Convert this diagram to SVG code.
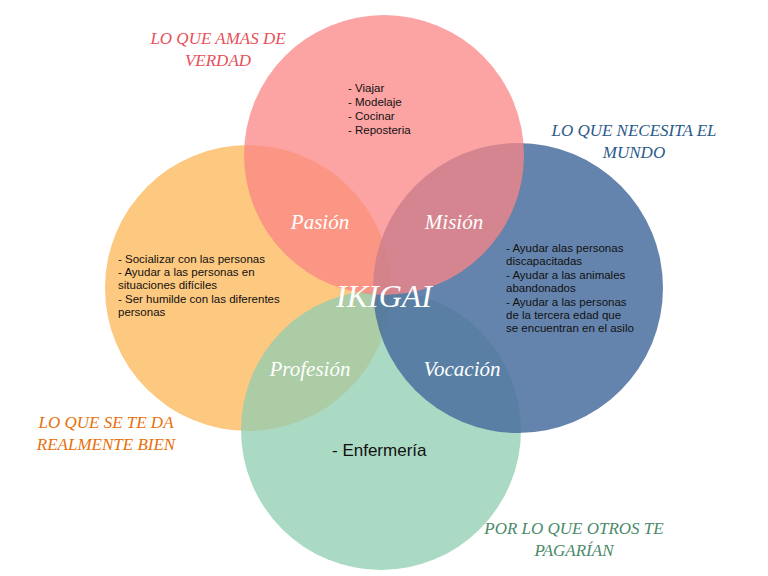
<svg xmlns="http://www.w3.org/2000/svg" width="768" height="576" viewBox="0 0 768 576">
<style>
.h{font-family:"Liberation Serif",serif;font-style:italic;font-size:17px;text-anchor:middle}
.w{font-family:"Liberation Serif",serif;font-style:italic;font-size:21px;fill:#fff;text-anchor:middle}
.t{font-family:"Liberation Sans",sans-serif;font-size:11.5px;fill:#111}
</style>
<rect width="768" height="576" fill="#fff"/>
<g id="orange"><circle cx="248" cy="288" r="143" fill="#fdc880"/></g>
<g id="green"><circle cx="381" cy="430" r="140" fill="#8fcdb0" opacity="0.75"/></g>
<g id="blue"><circle cx="518" cy="288" r="145" fill="#4a6f9f" opacity="0.85"/></g>
<g id="red"><circle cx="384" cy="155" r="140" fill="#fb8585" opacity="0.75"/></g>
<g id="labels">
<text class="h" x="218" y="44" fill="#e8505a">LO QUE AMAS DE</text>
<text class="h" x="218" y="66" fill="#e8505a">VERDAD</text>
<text class="h" x="634" y="136" fill="#2a5a8a">LO QUE NECESITA EL</text>
<text class="h" x="634" y="158" fill="#2a5a8a">MUNDO</text>
<text class="h" x="106" y="428" fill="#e8700a">LO QUE SE TE DA</text>
<text class="h" x="106" y="450" fill="#e8700a">REALMENTE BIEN</text>
<text class="h" x="574" y="534" fill="#4a8a6a">POR LO QUE OTROS TE</text>
<text class="h" x="574" y="556" fill="#4a8a6a">PAGARÍAN</text>
<text class="w" x="320" y="229">Pasión</text>
<text class="w" x="454" y="229">Misión</text>
<text class="w" x="310" y="376">Profesión</text>
<text class="w" x="462" y="376">Vocación</text>
<text class="w" x="384" y="307" style="font-size:32px">IKIGAI</text>
</g>
<g id="lists">
<text class="t" x="348" y="92">- Viajar</text>
<text class="t" x="348" y="106">- Modelaje</text>
<text class="t" x="348" y="120">- Cocinar</text>
<text class="t" x="348" y="134">- Reposteria</text>
<text class="t" x="118" y="263">- Socializar con las personas</text>
<text class="t" x="118" y="276">- Ayudar a las personas en</text>
<text class="t" x="118" y="289">situaciones difíciles</text>
<text class="t" x="118" y="303">- Ser humilde con las diferentes</text>
<text class="t" x="118" y="316">personas</text>
<text class="t" x="506" y="252">- Ayudar alas personas</text>
<text class="t" x="506" y="265">discapacitadas</text>
<text class="t" x="506" y="279">- Ayudar a las animales</text>
<text class="t" x="506" y="292">abandonados</text>
<text class="t" x="506" y="306">- Ayudar a las personas</text>
<text class="t" x="506" y="319">de la tercera edad que</text>
<text class="t" x="506" y="332">se encuentran en el asilo</text>
<text x="332" y="456" font-family="Liberation Sans,sans-serif" font-size="17" fill="#111">- Enfermería</text>
</g>
</svg>
